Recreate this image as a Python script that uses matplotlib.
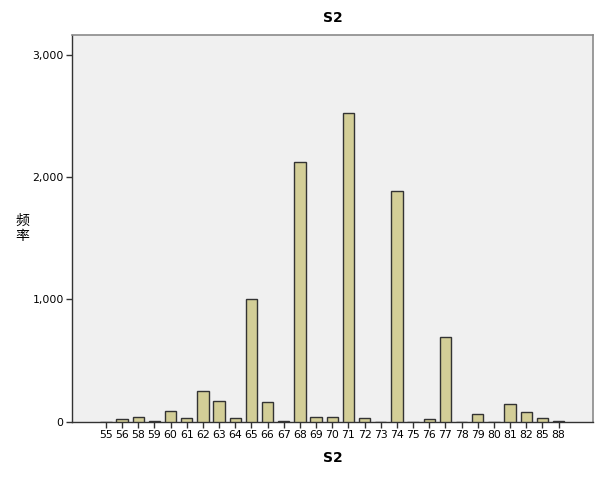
import matplotlib
matplotlib.use("Agg")
import matplotlib.pyplot as plt
import numpy as np

plt.rcParams['font.family'] = ['DejaVu Sans', 'Noto Sans CJK SC']

# S2 value categories and their frequencies
categories = ['55', '56', '58', '59', '60', '61', '62', '63', '64', '65',
              '66', '67', '68', '69', '70', '71', '72', '73', '74', '75',
              '76', '77', '78', '79', '80', '81', '82', '85', '88']
counts = [2, 20, 43, 10, 90, 33, 253, 174, 33, 1000,
          166, 10, 2123, 43, 43, 2523, 35, 2, 1886, 2,
          27, 692, 2, 63, 2, 145, 84, 35, 10]
yticks = [0, 1000, 2000, 3000]
ytick_labels = ['0', '1,000', '2,000', '3,000']

fig = plt.figure(figsize=(6, 4.8), dpi=100)
ax = fig.add_axes([0.12, 0.121, 0.868, 0.807])
ax.set_facecolor('#f0f0f0')

x = np.arange(len(categories))
ax.bar(x, counts, width=0.7, color='#d3ce97', edgecolor='#333333',
       linewidth=1.0, zorder=3)

ax.set_xlim(-2.1, len(categories) + 1.12)
ax.set_ylim(0, 3163)
ax.set_xticks(x)
ax.set_xticklabels(categories, fontsize=7.8)
ax.set_yticks(yticks)
ax.set_yticklabels(ytick_labels, fontsize=7.8)
ax.tick_params(axis='both', length=4, width=1, color='#333333', pad=2)

for side in ['top', 'right']:
    ax.spines[side].set_color('#8a8a8a')
    ax.spines[side].set_linewidth(1.2)
for side in ['left', 'bottom']:
    ax.spines[side].set_color('#333333')
    ax.spines[side].set_linewidth(1.0)

ax.set_title('S2', fontsize=10, fontweight='bold', pad=9)
ax.set_xlabel('S2', fontsize=10, fontweight='bold', labelpad=8)
fig.text(0.037, 0.525, '频\n率', fontsize=10, ha='center', va='center',
         family=['Noto Sans CJK SC', 'DejaVu Sans'], linespacing=1.1)

fig.savefig('out.png', dpi=100, facecolor='white')
